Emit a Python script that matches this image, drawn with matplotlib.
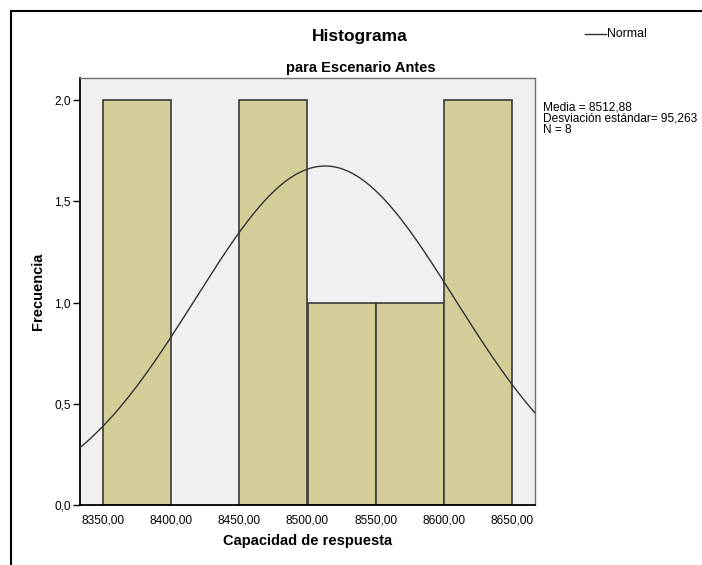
import numpy as np
import matplotlib
matplotlib.use("Agg")
import matplotlib.pyplot as plt
from matplotlib.lines import Line2D

plt.rcParams['font.family'] = ['Liberation Sans', 'DejaVu Sans']

# Histogram data
bin_edges = [8350, 8400, 8450, 8500, 8550, 8600, 8650]
counts = [2, 0, 2, 1, 1, 2]
media = 8512.88
desv = 95.263
n = 8

x_ticks = [8350, 8400, 8450, 8500, 8550, 8600, 8650]
y_ticks = [0.0, 0.5, 1.0, 1.5, 2.0]

W, H = 702, 565
fig = plt.figure(figsize=(W / 100, H / 100), dpi=100)
ax = fig.add_axes([80 / W, 1 - 505 / H, 455 / W, 427 / H])
ax.set_facecolor('#f0f0f0')

# bars
lefts = np.array(bin_edges[:-1])
widths = np.diff(bin_edges)
for l, w, c in zip(lefts, widths, counts):
    if c > 0:
        ax.bar(l, c, width=w, align='edge', color='#d3ce97',
               edgecolor='#3a3a3a', linewidth=1.2, zorder=2)

# normal curve scaled to counts
bw = widths[0]
xs = np.linspace(8333.3, 8666.7, 400)
ys = n * bw / (desv * np.sqrt(2 * np.pi)) * np.exp(-0.5 * ((xs - media) / desv) ** 2)
ax.plot(xs, ys, color='#333333', linewidth=1.0, zorder=3)

ax.set_xlim(8333.3, 8666.7)
ax.set_ylim(0, 2.11)
ax.set_xticks(x_ticks)
ax.set_xticklabels([f'{v:.2f}'.replace('.', ',') for v in x_ticks], fontsize=8.6)
ax.set_yticks(y_ticks)
ax.set_yticklabels([f'{v:.1f}'.replace('.', ',') for v in y_ticks], fontsize=8.6)
ax.tick_params(axis='x', length=0, pad=6.5)
ax.tick_params(axis='y', length=5, width=1, direction='out', pad=1.5)

for s in ['top', 'right']:
    ax.spines[s].set_color('#707070')
    ax.spines[s].set_linewidth(1.0)
for s in ['left', 'bottom']:
    ax.spines[s].set_color('black')
    ax.spines[s].set_linewidth(1.3)

ax.set_xlabel('Capacidad de respuesta', fontsize=10.5, fontweight='bold', labelpad=6)
ax.set_ylabel('Frecuencia', fontsize=10.5, fontweight='bold', labelpad=7)

# titles centered on the whole chart area
fig.text(360 / W, 1 - 37 / H, 'Histograma', fontsize=12.5, fontweight='bold',
         ha='center', va='center')
fig.text(361 / W, 1 - 68 / H, 'para Escenario Antes', fontsize=10.5,
         fontweight='bold', ha='center', va='center')

# legend
fig.add_artist(Line2D([585 / W, 606 / W], [1 - 34 / H, 1 - 34 / H],
                      color='#333333', linewidth=1.0))
fig.text(607 / W, 1 - 34 / H, 'Normal', fontsize=8.8, ha='left', va='center')

stats = f'Media = {media:.2f}'.replace('.', ',') + '\n' + \
        f'Desviación estándar= {desv:.3f}'.replace('.', ',') + '\n' + f'N = {n}'
fig.text(543 / W, 1 - 102 / H, stats, fontsize=8.6, ha='left', va='top',
         linespacing=0.88)

# outer frame (left and top edges visible)
fig.add_artist(Line2D([11 / W, 11 / W], [0, 1 - 11 / H], color='black', linewidth=1.5))
fig.add_artist(Line2D([11 / W, 1], [1 - 11 / H, 1 - 11 / H], color='black', linewidth=1.5))

fig.savefig('out.png', dpi=100)
